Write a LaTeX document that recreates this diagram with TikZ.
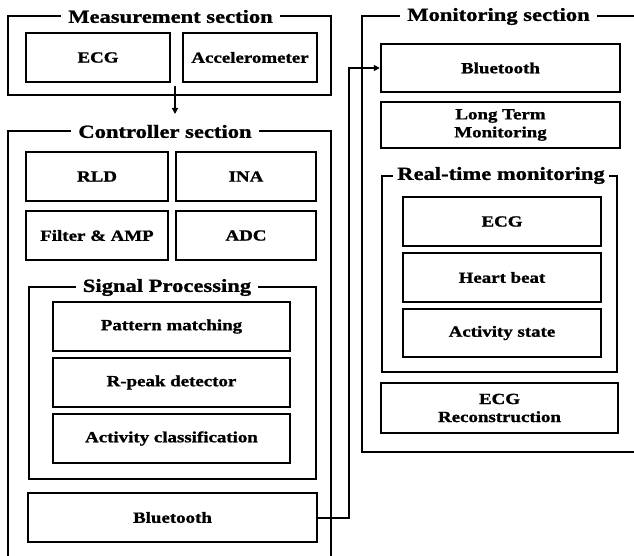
\documentclass[tikz,border=0pt]{standalone}
\usepackage{fontspec}
\setmainfont{Liberation Serif}[FakeStretch=1.22,BoldFeatures={FakeBold=1.2}]
\usetikzlibrary{arrows.meta}
\begin{document}
\begin{tikzpicture}[x=1pt,y=-1pt,
  frame/.style={draw,line width=2.6pt},
  blk/.style={draw,line width=2.4pt,inner sep=0pt,align=center,
    font=\fontsize{15.5}{18}\selectfont\bfseries},
  ttl/.style={fill=white,inner xsep=7pt,inner ysep=1pt,
    font=\fontsize{18.5}{20}\selectfont\bfseries},
  conn/.style={draw,line width=2pt,-{Triangle[length=6pt,width=6pt]}}]
\useasboundingbox (0,0) rectangle (634,556);
% frames
\draw[frame] (8,16) rectangle (331,95);
\draw[frame] (8,560) -- (8,131) -- (331,131) -- (331,560);
\draw[frame] (29,287) rectangle (316,479);
\draw[frame] (640,16) -- (362,16) -- (362,452) -- (640,452);
\draw[frame] (382,176) rectangle (617,372);
% titles
\node[ttl] (tmeas) at (170.5,16.5) {Measurement section};
\node[ttl] (tctrl) at (165,131.5) {Controller section};
\node[ttl] (tsig) at (167,287.5) {Signal Processing};
\node[ttl] (tmon) at (498.5,16.5) {Monitoring section};
\node[ttl,inner xsep=4pt] (treal) at (501,175.5) {Real-time monitoring};
% measurement
\node[blk,minimum width=144,minimum height=49] (mecg) at (98,57.5) {ECG};
\node[blk,minimum width=134,minimum height=49] (macc) at (250,57.5) {Accelerometer};
% controller
\node[blk,minimum width=142,minimum height=49] (rld) at (97,176.5) {RLD};
\node[blk,minimum width=140,minimum height=49] (ina) at (246,176.5) {INA};
\node[blk,minimum width=142,minimum height=49] (famp) at (97,235.5) {Filter \& AMP};
\node[blk,minimum width=140,minimum height=49] (adc) at (246,235.5) {ADC};
\node[blk,minimum width=237,minimum height=49] (pat) at (171.5,326.5) {Pattern matching};
\node[blk,minimum width=237,minimum height=49] (rpk) at (171.5,382.5) {R-peak detector};
\node[blk,minimum width=237,minimum height=49] (act) at (171.5,438.5) {Activity classification};
\node[blk,minimum width=289,minimum height=49] (cbt) at (172.5,517.5) {Bluetooth};
% monitoring
\node[blk,minimum width=239,minimum height=48] (mbt) at (500.5,68) {Bluetooth};
\node[blk,minimum width=239,minimum height=46] (ltm) at (500.5,125) {Long Term\\Monitoring};
\node[blk,minimum width=198,minimum height=49] (recg) at (502,221.5) {ECG};
\node[blk,minimum width=198,minimum height=49] (hb) at (502,277.5) {Heart beat};
\node[blk,minimum width=198,minimum height=48] (as) at (502,333) {Activity state};
\node[blk,minimum width=237,minimum height=50] (ecgr) at (499.5,408) {ECG\\Reconstruction};
% connectors
\coordinate (a1) at (175,86);
\coordinate (a2) at (175,114);
\draw[conn] (a1) -- (a2);
\coordinate (j) at (349,517.5);
\draw[conn] (cbt.east) -- (j) |- (mbt.west);
\end{tikzpicture}
\end{document}
